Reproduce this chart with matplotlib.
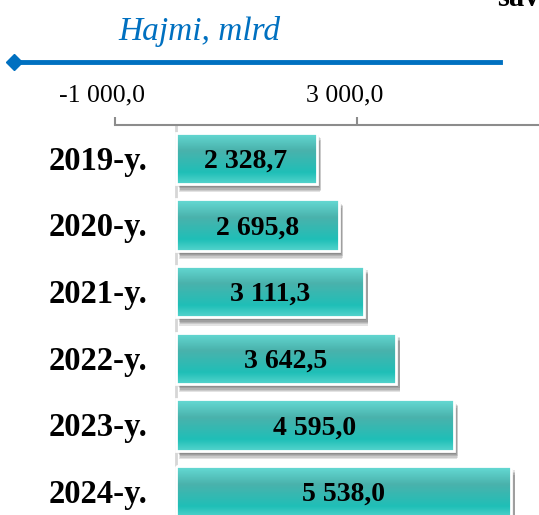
import numpy as np
import matplotlib.pyplot as plt
import matplotlib.patheffects as pe
from matplotlib.colors import LinearSegmentedColormap
from matplotlib.lines import Line2D
from matplotlib.transforms import ScaledTranslation

# ----------------------------
# Data
# ----------------------------
years = ["2019-y.", "2020-y.", "2021-y.", "2022-y.", "2023-y.", "2024-y."]
volume = [2328.7, 2695.8, 3111.3, 3642.5, 4595.0, 5538.0]
tick_values = [-1000, 3000]

TITLE = "Hajmi, mlrd"
BLUE = "#0070C0"
FONT = "Liberation Serif"

plt.rcParams["font.family"] = [FONT, "DejaVu Serif"]


def fmt_num(v):
    s = f"{abs(v):,.1f}".replace(",", " ").replace(".", ",")
    return ("-" if v < 0 else "") + s


# ----------------------------
# Figure / axes
# ----------------------------
W_PX, H_PX = 539, 515
fig = plt.figure(figsize=(W_PX / 100, H_PX / 100), dpi=100)

zero_px = 175.5
scale = 0.0606            # px per unit
xmin, xmax = -1000, 6100
left_px = zero_px + xmin * scale
width_px = (xmax - xmin) * scale
top_px, row_px = 125.0, 66.7
height_px = row_px * len(years)

ax = fig.add_axes([left_px / W_PX, (H_PX - top_px - height_px) / H_PX,
                   width_px / W_PX, height_px / H_PX])

y = np.arange(len(years))
bar_h = 0.77

# soft drop shadow + base
shadow = [pe.SimplePatchShadow(offset=(dx, dy), shadow_rgbFace="k", alpha=0.11)
          for dx, dy in [(0.5, -1), (1.5, -2), (2.5, -3), (3, -4), (3, -5), (2.5, -6)]]
bars = ax.barh(y, volume, height=bar_h, color="#2cc0b8", edgecolor="none",
               zorder=2)
for b in bars:
    b.set_path_effects(shadow + [pe.Normal()])

# vertical gradient fill
cmap = LinearSegmentedColormap.from_list(
    "teal", [(0.0, "#66dcd6"), (0.35, "#4ab2ac"), (0.78, "#1fbfb7"), (1.0, "#55d4cd")])
grad = np.linspace(0, 1, 128).reshape(-1, 1)
for b, yi, v in zip(bars, y, volume):
    im = ax.imshow(grad, cmap=cmap, aspect="auto", origin="upper",
                   extent=(0, v, yi + bar_h / 2, yi - bar_h / 2), zorder=3,
                   interpolation="bilinear")
    im.set_clip_path(b)

# white border
ax.barh(y, volume, height=bar_h, fill=False, edgecolor="white", linewidth=2,
        zorder=4)

# value labels
for yi, v in zip(y, volume):
    ax.text(v / 2, yi + 0.04, fmt_num(v), ha="center", va="center", fontsize=20,
            fontweight="bold", color="black", zorder=5)

# category labels
for yi, lab in zip(y, years):
    ax.annotate(lab, xy=(0, yi), xytext=(-20.5, -2), textcoords="offset points",
                ha="right", va="center", fontsize=23.5, fontweight="bold",
                color="black", annotation_clip=False)

# zero line
ax.axvline(0, color="#d6d6d6", linewidth=2, zorder=1)

ax.set_xlim(xmin, xmax)
ax.set_ylim(len(years) - 0.5, -0.5)

for side in ["left", "right", "bottom"]:
    ax.spines[side].set_visible(False)
ax.spines["top"].set_color("#8c8c8c")
ax.spines["top"].set_linewidth(1.5)

ax.set_yticks([])
ax.xaxis.tick_top()
ax.set_xticks(tick_values)
ax.set_xticklabels([fmt_num(v) for v in tick_values])
ax.tick_params(axis="x", direction="out", length=6, width=1.5, color="#8c8c8c",
               labelsize=18.5, pad=7)
for lbl in ax.get_xticklabels():
    lbl.set_transform(lbl.get_transform() +
                      ScaledTranslation(-13 / 100, 0, fig.dpi_scale_trans))

# ----------------------------
# Decorations (legend line, title, cropped text)
# ----------------------------
fig.add_artist(Line2D([10 / W_PX, 500 / W_PX], [1 - 62 / H_PX, 1 - 62 / H_PX],
                      color=BLUE, linewidth=3.5, transform=fig.transFigure))
fig.add_artist(Line2D([14 / W_PX], [1 - 62 / H_PX], color=BLUE, marker="D",
                      markersize=8, transform=fig.transFigure))
fig.text(118 / W_PX, 1 - 40 / H_PX, TITLE, color=BLUE, fontsize=24,
         fontstyle="italic", ha="left", va="baseline")
fig.text(497 / W_PX, 1 - 6 / H_PX, "savdo", color="black", fontsize=22,
         fontweight="bold", ha="left", va="baseline")

fig.savefig("out.png", dpi=100)
